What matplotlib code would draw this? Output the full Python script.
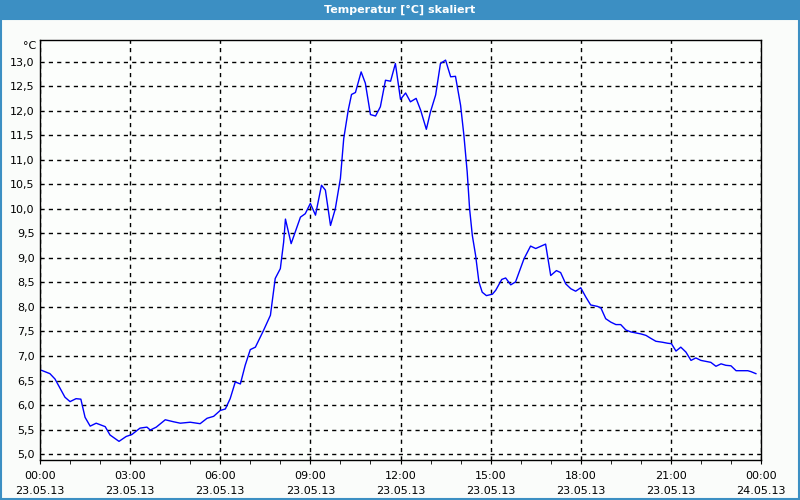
import matplotlib
matplotlib.use('Agg')
import matplotlib.pyplot as plt
from matplotlib.patches import Rectangle

# Stunden seit 23.05.13 00:00
hours = [0.0, 0.33, 0.5, 0.83, 1.0, 1.2, 1.36, 1.5, 1.67, 1.87, 2.17, 2.33, 2.63, 2.87,
         3.06, 3.33, 3.56, 3.67, 3.87, 4.17, 4.44, 4.67, 5.0, 5.33, 5.56, 5.78, 6.0, 6.17,
         6.33, 6.5, 6.67, 6.83, 7.0, 7.17, 7.44, 7.67, 7.83, 8.0, 8.11, 8.17, 8.36, 8.67,
         8.83, 9.0, 9.17, 9.37, 9.5, 9.67, 9.83, 10.0, 10.11, 10.26, 10.37, 10.5, 10.69,
         10.83, 11.0, 11.17, 11.33, 11.5, 11.67, 11.83, 12.0, 12.17, 12.33, 12.52, 12.67,
         12.86, 13.0, 13.17, 13.33, 13.5, 13.67, 13.83, 14.0, 14.11, 14.22, 14.3, 14.39,
         14.5, 14.61, 14.72, 14.86, 15.06, 15.17, 15.37, 15.5, 15.67, 15.83, 16.11, 16.33,
         16.5, 16.83, 17.0, 17.19, 17.33, 17.5, 17.67, 17.83, 18.0, 18.17, 18.33, 18.56,
         18.67, 18.83, 19.0, 19.17, 19.33, 19.5, 19.67, 19.83, 20.0, 20.17, 20.33, 20.5,
         20.72, 20.89, 21.02, 21.17, 21.33, 21.5, 21.67, 21.83, 22.0, 22.17, 22.33, 22.5,
         22.67, 22.83, 23.0, 23.17, 23.33, 23.56, 23.67, 23.83]
temp = [6.72, 6.64, 6.53, 6.16, 6.07, 6.13, 6.12, 5.75, 5.57, 5.63, 5.56, 5.39, 5.26, 5.36,
        5.40, 5.53, 5.55, 5.49, 5.55, 5.70, 5.66, 5.63, 5.65, 5.62, 5.73, 5.77, 5.89, 5.92,
        6.13, 6.47, 6.43, 6.81, 7.13, 7.18, 7.52, 7.83, 8.58, 8.78, 9.32, 9.79, 9.29, 9.83,
        9.90, 10.11, 9.87, 10.48, 10.38, 9.66, 10.00, 10.62, 11.43, 12.01, 12.33, 12.37, 12.79,
        12.56, 11.92, 11.89, 12.08, 12.62, 12.60, 12.96, 12.23, 12.36, 12.18, 12.25, 12.01,
        11.62, 11.98, 12.32, 12.96, 13.03, 12.69, 12.70, 12.11, 11.50, 10.75, 10.00, 9.46,
        9.05, 8.51, 8.30, 8.23, 8.26, 8.34, 8.56, 8.59, 8.45, 8.51, 8.98, 9.24,
        9.19, 9.28, 8.64, 8.74, 8.70, 8.47, 8.37, 8.32, 8.39, 8.20, 8.04, 8.01,
        7.98, 7.76, 7.69, 7.64, 7.64, 7.53, 7.49, 7.47, 7.45, 7.42, 7.36, 7.30,
        7.28, 7.26, 7.25, 7.10, 7.18, 7.08, 6.91, 6.96, 6.91, 6.89, 6.87, 6.79,
        6.84, 6.81, 6.80, 6.70, 6.70, 6.70, 6.68, 6.64]

xticks = [0, 3, 6, 9, 12, 15, 18, 21, 24]
xlabels = ['00:00\n23.05.13', '03:00\n23.05.13', '06:00\n23.05.13', '09:00\n23.05.13',
           '12:00\n23.05.13', '15:00\n23.05.13', '18:00\n23.05.13', '21:00\n23.05.13',
           '00:00\n24.05.13']
yticks = [5.0, 5.5, 6.0, 6.5, 7.0, 7.5, 8.0, 8.5, 9.0, 9.5, 10.0, 10.5, 11.0, 11.5,
          12.0, 12.5, 13.0]

blue = '#3c8fc3'
fig = plt.figure(figsize=(8, 5), dpi=100, facecolor='#fafcfa')

# Titelleiste und Fensterrahmen
fig.patches.append(Rectangle((0, 1 - 20/500), 1, 20/500, transform=fig.transFigure,
                             facecolor=blue, edgecolor='none'))
fig.patches.append(Rectangle((1/800, 1/500), 798/800, 480/500, transform=fig.transFigure,
                             facecolor='none', edgecolor=blue, lw=1.5))
fig.text(0.5, 1 - 10/500, 'Temperatur [°C] skaliert', color='white', fontsize=8,
         fontweight='bold', ha='center', va='center')

ax = fig.add_axes([40/800, 40/500, 721/800, 420/500])
ax.set_facecolor('#fcfefc')
ax.plot(hours, temp, color='#0000ff', lw=1)
ax.set_xlim(0, 24)
ax.set_ylim(4.88, 13.44)
ax.set_xticks(xticks)
ax.set_xticklabels(xlabels, fontsize=8, linespacing=1.6)
ax.set_xticks(range(0, 25), minor=True)
ax.set_yticks(yticks)
ax.set_yticklabels([('%.1f' % v).replace('.', ',') for v in yticks], fontsize=8)
ax.tick_params(axis='y', length=0, pad=4)
ax.tick_params(axis='x', which='both', length=3, direction='out', pad=5)
ax.grid(True, color='black', linestyle=(0, (3, 3)), lw=1)
for s in ax.spines.values():
    s.set_color('black')
    s.set_linewidth(1)
fig.text(36/800, 1 - 46/500, '°C', fontsize=8, ha='right', va='center')

fig.savefig('out.png', dpi=100, facecolor=fig.get_facecolor())
